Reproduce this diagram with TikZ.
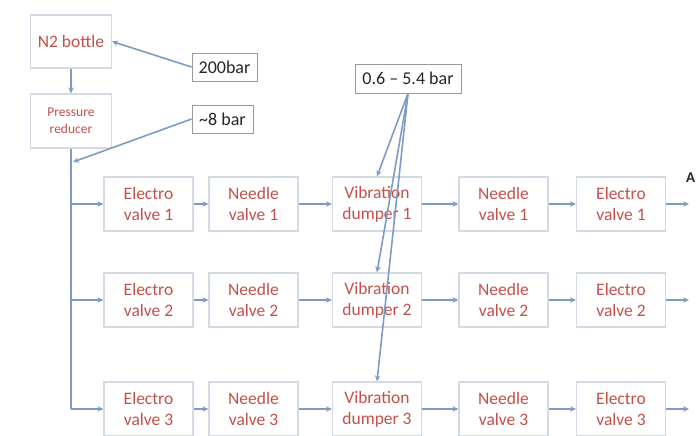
\documentclass[tikz,border=0pt]{standalone}
\usepackage{fontspec}
\setmainfont{Carlito}
\usetikzlibrary{arrows.meta}
\definecolor{boxline}{HTML}{D3DAE3}
\definecolor{redtxt}{HTML}{C4504A}
\definecolor{arr}{HTML}{7C9CC4}
\definecolor{lblline}{HTML}{9A9A9A}
\begin{document}
\begin{tikzpicture}[x=1pt,y=-1pt,
  box/.style={draw=boxline, line width=1.2pt, fill=white, text=redtxt, minimum width=89pt, minimum height=54pt, align=center, font=\fontsize{17.5}{21}\selectfont, inner sep=1pt},
  lbl/.style={draw=lblline, line width=0.9pt, fill=white, text=black!85, font=\fontsize{18}{20}\selectfont, inner sep=2pt},
  conn/.style={draw=arr, line width=1.6pt, -{Stealth[length=6pt,width=5.5pt]}},
  trunk/.style={draw=arr, line width=1.8pt}]
\useasboundingbox (0,0) rectangle (699,436);
\node[box, minimum width=81pt, minimum height=53pt] (bot) at (71,41.5) {N2 bottle};
\node[box, minimum width=81pt, minimum height=54pt, font=\fontsize{13.5}{17}\selectfont] (pr) at (71,121) {Pressure\\reducer};
\node[lbl, minimum width=65pt, minimum height=28pt] (b200) at (224.5,67) {200bar};
\node[lbl, minimum width=61pt, minimum height=28pt] (b8) at (222.5,119) {\textasciitilde8 bar};
\node[lbl, minimum width=106pt, minimum height=29pt] (b06) at (408,78.5) {0.6 -- 5.4 bar};
\coordinate (k) at (73,162);
\coordinate (t3) at (71,409);
\draw[conn] (bot) -- (pr);
\draw[trunk] (pr.south) -- (t3);
\foreach \r/\y in {1/204,2/300,3/409} {
  \node[box] (e\r) at (148.5,\y) {Electro\\valve \r};
  \node[box] (n\r) at (253.5,\y) {Needle\\valve \r};
  \node[box] (v\r) at (377,\y) {Vibration\\dumper \r};
  \node[box] (m\r) at (503.5,\y) {Needle\\valve \r};
  \node[box] (f\r) at (621,\y) {Electro\\valve \r};
  \coordinate (s\r) at (71,\y);
  \coordinate (o\r) at (689,\y);
  \draw[conn] (s\r) -- (e\r);
  \draw[conn] (e\r) -- (n\r);
  \draw[conn] (n\r) -- (v\r);
  \draw[conn] (v\r) -- (m\r);
  \draw[conn] (m\r) -- (f\r);
  \draw[conn] (f\r) -- (o\r);
}
\draw[conn] (b200.west) -- (bot.east);
\draw[conn] (b8.west) -- (k);
\draw[conn] (b06.south) -- (v1.north);
\draw[conn] (b06.south) -- (v2.north);
\draw[conn] (b06.south) -- (v3.north);
\node[anchor=west, inner sep=0pt, font=\bfseries\fontsize{15}{17}\selectfont, text=black!85] (alab) at (686,178) {A};
\end{tikzpicture}
\end{document}
